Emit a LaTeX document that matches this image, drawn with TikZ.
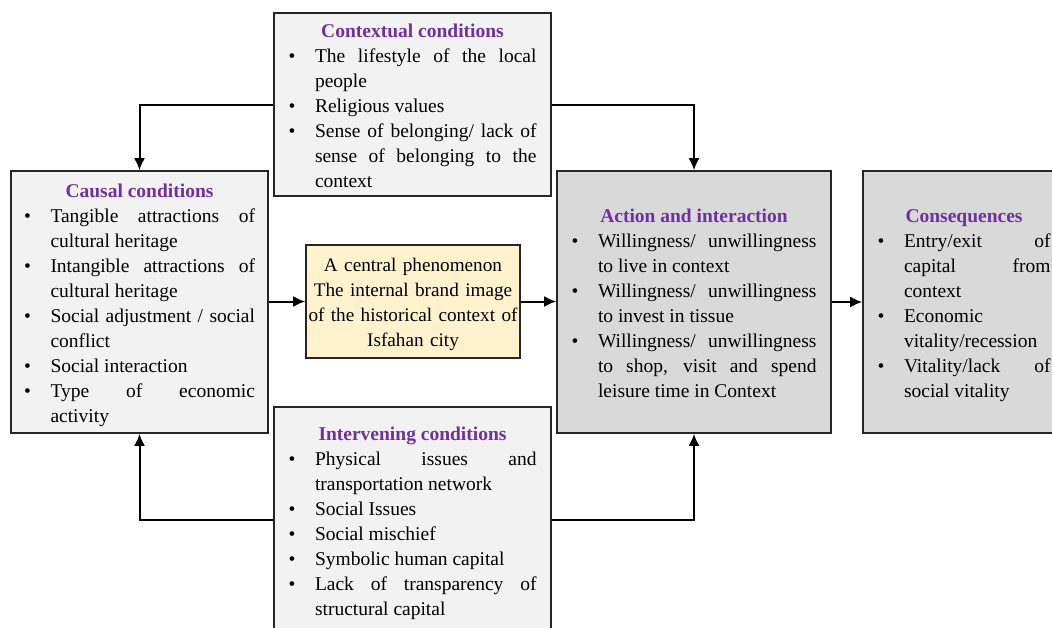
\documentclass[tikz,border=0pt]{standalone}
\usepackage{fontspec}
\setmainfont{Liberation Serif}
\usetikzlibrary{arrows.meta}
\definecolor{ttl}{HTML}{7030A0}
\definecolor{lightbox}{HTML}{F2F2F2}
\definecolor{darkbox}{HTML}{D9D9D9}
\definecolor{yelbox}{HTML}{FFF2CC}
\tolerance=10000
\hbadness=10000
\hfuzz=6pt
\hyphenpenalty=10000
\exhyphenpenalty=10000
\newcommand{\mystrut}{\rule[-5pt]{0pt}{25pt}}
\newenvironment{blist}{\begin{list}{\textbullet}{\setlength{\leftmargin}{26.5pt}\setlength{\labelwidth}{7pt}\setlength{\labelsep}{19.5pt}\setlength{\itemsep}{0pt}\setlength{\parsep}{0pt}\setlength{\topsep}{0pt}\setlength{\partopsep}{0pt}\setlength{\itemindent}{0pt}\setlength{\listparindent}{0pt}}}{\end{list}}
\newcommand{\ttlline}[1]{{\centering\bfseries\color{ttl}\mystrut#1\par}}
\tikzset{
  box/.style={draw=black!85, line width=1.6pt, inner xsep=14.5pt, inner ysep=0pt,
    align=justify, font=\fontsize{19.5}{25}\selectfont},
  arr/.style={draw=black, line width=2pt, -{Latex[length=12pt,width=11pt]}}
}
\begin{document}
\begin{tikzpicture}[x=1pt,y=-1pt]
\useasboundingbox (0,0) rectangle (1052,627);
\clip (0,0) rectangle (1052,627);

\node[box, fill=lightbox, minimum width=277pt, minimum height=183pt, text width=248pt] (ctx) at (412.5,104.5) {%
\ttlline{Contextual conditions}
\begin{blist}
\item The lifestyle of the local\linebreak people
\item Religious values
\item Sense of belonging/ lack of\linebreak sense of belonging to the\linebreak context\mystrut
\end{blist}};

\node[box, fill=lightbox, inner xsep=13pt, minimum width=257pt, minimum height=262pt, text width=231pt] (cau) at (139.5,302) {%
\ttlline{Causal conditions}
\begin{blist}
\item Tangible attractions of\linebreak cultural heritage
\item Intangible attractions of\linebreak cultural heritage
\item Social adjustment / social\linebreak conflict
\item Social interaction
\item Type of economic\linebreak activity\mystrut
\end{blist}};

\node[box, fill=yelbox, align=center, inner xsep=0pt, minimum width=214pt, minimum height=113pt, text width=214pt, font=\fontsize{19.2}{25}\selectfont] (cen) at (413,301.5) {%
\mystrut A central phenomenon\\The internal brand image\\of the historical context of\\Isfahan city\mystrut};

\node[box, fill=darkbox, minimum width=274pt, minimum height=262pt, text width=245pt] (act) at (694,302) {%
\ttlline{Action and interaction}
\begin{blist}
\item Willingness/ unwillingness\linebreak to live in context
\item Willingness/ unwillingness\linebreak to invest in tissue
\item Willingness/ unwillingness\linebreak to shop, visit and spend\linebreak leisure time in Context\mystrut
\end{blist}};

\node[box, fill=darkbox, minimum width=202pt, minimum height=262pt, text width=173pt] (con) at (964,302) {%
\ttlline{Consequences}
\begin{blist}
\item Entry/exit of\linebreak capital from\linebreak context
\item Economic\linebreak vitality/recession
\item Vitality/lack of\linebreak social vitality\mystrut
\end{blist}};

\node[box, fill=lightbox, minimum width=277pt, minimum height=226pt, text width=248pt] (itv) at (412.5,520) {%
\ttlline{Intervening conditions}
\begin{blist}
\item Physical issues and\linebreak transportation network
\item Social Issues
\item Social mischief
\item Symbolic human capital
\item Lack of transparency of\linebreak structural capital\mystrut
\end{blist}};

\draw[arr] (ctx.west) -| (cau.north);
\draw[arr] (ctx.east) -| (act.north);
\draw[arr] (itv.west) -| (cau.south);
\draw[arr] (itv.east) -| (act.south);
\draw[arr] (cau.east |- cen.west) -- (cen.west);
\draw[arr] (cen.east) -- (cen.east -| act.west);
\draw[arr] (act.east) -- (con.west);
\end{tikzpicture}
\end{document}
